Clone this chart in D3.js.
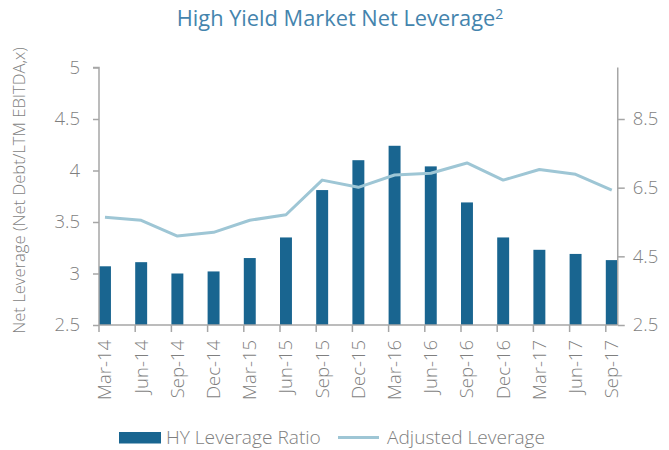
<!DOCTYPE html>
<html>
<head>
<meta charset="utf-8">
<script src="https://cdn.jsdelivr.net/npm/d3@7"></script>
<style>
  html, body { margin: 0; padding: 0; background: #fff; }
  svg { display: block; font-family: "Open Sans", sans-serif; font-weight: 300; }
  svg text { font-weight: 300; }
</style>
</head>
<body>
<svg id="chart" width="669" height="450"></svg>
<script>
const quarters = ["Mar-14", "Jun-14", "Sep-14", "Dec-14", "Mar-15", "Jun-15", "Sep-15", "Dec-15",
  "Mar-16", "Jun-16", "Sep-16", "Dec-16", "Mar-17", "Jun-17", "Sep-17"]
const hyLeverage = [3.07, 3.11, 3.00, 3.02, 3.15, 3.35, 3.81, 4.10, 4.24, 4.04, 3.69, 3.35, 3.23, 3.19, 3.13]
const adjustedLeverage = [5.64, 5.55, 5.09, 5.20, 5.55, 5.71, 6.72, 6.51, 6.87, 6.92, 7.22, 6.72, 7.03, 6.89, 6.43]
const leftTicks = [2.5, 3, 3.5, 4, 4.5, 5]
const rightTicks = [2.5, 4.5, 6.5, 8.5]

const barColor = "#196590"
const lineColor = "#9ec6d5"
const axisColor = "#a6a6a6"
const textColor = "#7f7f7f"

const svg = d3.select("#chart")

// plot box
const plotLeft = 99, plotTop = 67.5, plotBottom = 325
const step = 36.2

const x = d3.scaleBand()
  .domain(quarters)
  .range([plotLeft, plotLeft + quarters.length * step])
  .paddingInner(0)
  .paddingOuter(0)
const barW = x.bandwidth() * 0.33
const plotRight = x(quarters[quarters.length - 1]) + barW

const yL = d3.scaleLinear().domain([2.5, 5]).range([plotBottom, plotTop])
const yR = d3.scaleLinear().domain([2.5, 10]).range([plotBottom, plotTop])

// shrink/grow a text's font so it spans a given width
function fitText(sel, width) {
  const node = sel.node()
  const fs = parseFloat(sel.attr("font-size"))
  const w = node.getComputedTextLength()
  if (w > 0) sel.attr("font-size", (fs * width / w).toFixed(2))
}

// Title
const title = svg.append("text")
  .attr("x", 340)
  .attr("y", 26)
  .attr("text-anchor", "middle")
  .attr("fill", "#4484ad")
  .attr("font-size", 21.8)
  .style("font-weight", 400)
title.append("tspan").text("High Yield Market Net Leverage")
title.append("tspan")
  .attr("dy", -7)
  .attr("font-size", 14)
  .text("2")

// Bars
svg.append("g")
  .selectAll("rect")
  .data(hyLeverage)
  .join("rect")
  .attr("x", (d, i) => x(quarters[i]))
  .attr("y", d => yL(d))
  .attr("width", barW)
  .attr("height", d => yL(2.5) - yL(d))
  .attr("fill", barColor)

// Adjusted leverage line
const line = d3.line()
  .x((d, i) => x(quarters[i]) + barW / 2)
  .y(d => yR(d))

svg.append("path")
  .datum(adjustedLeverage)
  .attr("d", line)
  .attr("fill", "none")
  .attr("stroke", lineColor)
  .attr("stroke-width", 3)
  .attr("stroke-linejoin", "round")

// Left axis
const gL = svg.append("g")
  .attr("transform", `translate(${plotLeft},0)`)
  .call(d3.axisLeft(yL).tickValues(leftTicks).tickSize(6).tickPadding(13).tickFormat(d3.format("")))
gL.select(".domain").attr("stroke", axisColor).attr("stroke-width", 1.5).attr("d", `M-6,${plotTop}H0V${plotBottom}`)
gL.selectAll(".tick line").attr("stroke", axisColor).attr("stroke-width", 1.5)
gL.selectAll(".tick text").attr("fill", textColor).attr("font-size", 18.5).attr("font-family", "Open Sans")

// Right axis
const gR = svg.append("g")
  .attr("transform", `translate(${plotRight},0)`)
  .call(d3.axisRight(yR).tickValues(rightTicks).tickSize(7).tickPadding(8).tickFormat(d3.format(".1f")))
gR.select(".domain").attr("stroke", axisColor).attr("stroke-width", 1.5).attr("d", `M0,${plotTop}V${plotBottom}`)
gR.selectAll(".tick line").attr("stroke", axisColor).attr("stroke-width", 1.5)
gR.selectAll(".tick text").attr("fill", textColor).attr("font-size", 18.5).attr("font-family", "Open Sans")

// Bottom axis: tick marks at the start of each band, labels under the bars
const gX = svg.append("g").attr("transform", `translate(0,${plotBottom})`)
gX.append("line")
  .attr("x1", plotLeft).attr("x2", plotRight)
  .attr("stroke", axisColor).attr("stroke-width", 1.5)
gX.selectAll(".xt")
  .data(quarters)
  .join("line")
  .attr("class", "xt")
  .attr("x1", d => x(d)).attr("x2", d => x(d))
  .attr("y1", 0).attr("y2", 7)
  .attr("stroke", axisColor).attr("stroke-width", 1.5)
gX.selectAll(".xl")
  .data(quarters)
  .join("text")
  .attr("class", "xl")
  .attr("transform", d => `translate(${x(d) + barW / 2 + 6.5},15) rotate(-90)`)
  .attr("text-anchor", "end")
  .attr("fill", textColor)
  .attr("font-size", 18.5)
  .text(d => d)

// Y axis title
const yTitle = svg.append("text")
  .attr("transform", `translate(25,190.5) rotate(-90)`)
  .attr("text-anchor", "middle")
  .attr("fill", textColor)
  .attr("font-size", 15.5)
  .text("Net Leverage (Net Debt/LTM EBITDA,x)")
fitText(yTitle, 287)

// Legend
const lg = svg.append("g")
lg.append("rect")
  .attr("x", 119).attr("y", 432)
  .attr("width", 42).attr("height", 11.5)
  .attr("fill", barColor)
const t1 = lg.append("text")
  .attr("x", 166).attr("y", 444)
  .attr("fill", textColor)
  .attr("font-size", 18.5)
  .text("HY Leverage Ratio")
fitText(t1, 155)
lg.append("line")
  .attr("x1", 338).attr("x2", 379)
  .attr("y1", 437.5).attr("y2", 437.5)
  .attr("stroke", lineColor).attr("stroke-width", 3)
const t2 = lg.append("text")
  .attr("x", 387).attr("y", 444)
  .attr("fill", textColor)
  .attr("font-size", 18.5)
  .text("Adjusted Leverage")
fitText(t2, 158)
</script>
</body>
</html>
